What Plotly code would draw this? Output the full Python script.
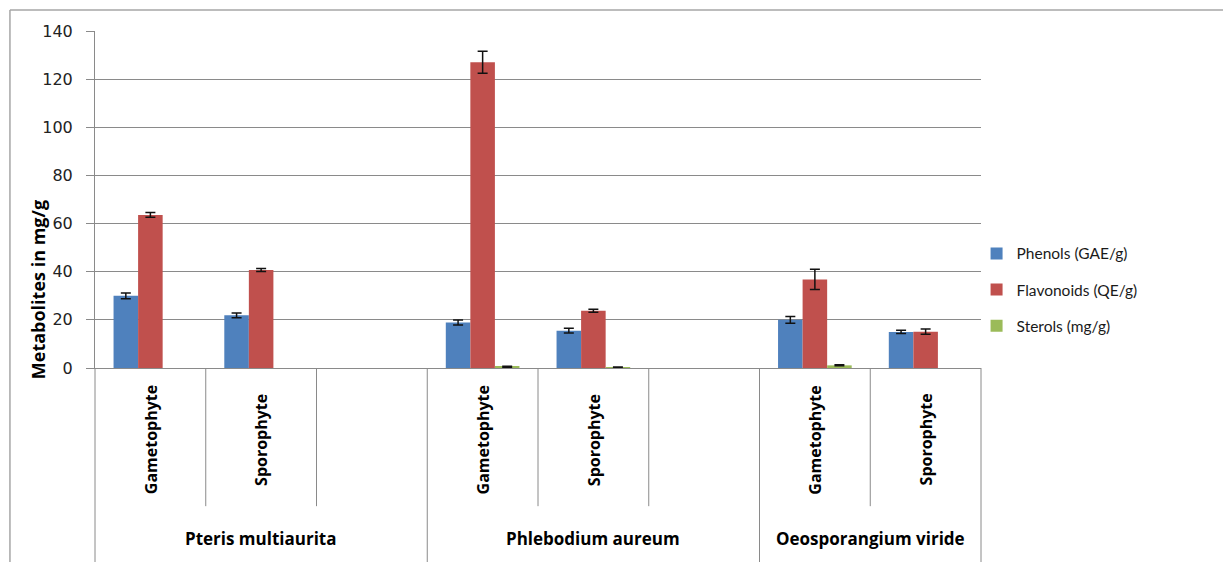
import plotly.graph_objects as go

# ---- data ----
groups = ["Pteris multiaurita", "Phlebodium aureum", "Oeosporangium viride"]
stages = ["Gametophyte", "Sporophyte", "", "Gametophyte", "Sporophyte", "", "Gametophyte", "Sporophyte"]
slot_group = [0, 0, 0, 1, 1, 1, 2, 2]

phenols = [30.0, 21.9, None, 18.9, 15.5, None, 20.0, 15.0]
phenols_err = [1.2, 1.0, 0, 1.0, 1.0, 0, 1.4, 0.7]
flavonoids = [63.6, 40.7, None, 127.0, 23.8, None, 36.8, 15.1]
flavonoids_err = [1.0, 0.6, 0, 4.6, 0.6, 0, 4.2, 1.1]
sterols = [None, None, None, 0.5, 0.3, None, 1.1, None]
sterols_err = [0, 0, 0, 0.2, 0.1, 0, 0.2, 0]

series_names = ["Phenols (GAE/g)", "Flavonoids (QE/g)", "Sterols (mg/g)"]
series_colors = ["#4F81BD", "#C0504D", "#9BBB59"]
y_ticks = [0, 20, 40, 60, 80, 100, 120, 140]

x = list(range(len(stages)))
GRID = "#8a8a8a"
LABEL_FONT = "Open Sans"

fig = go.Figure()
for name, vals, errs, col in zip(series_names, [phenols, flavonoids, sterols],
                                 [phenols_err, flavonoids_err, sterols_err], series_colors):
    fig.add_trace(go.Bar(
        x=x, y=vals, name=name, legendgroup=name,
        marker=dict(color=col, line=dict(width=0)),
        error_y=dict(type="data", array=errs, visible=True, color="#111111",
                     thickness=1.5, width=5),
    ))

annotations = []
# sub-category labels
for i, s in enumerate(stages):
    if s:
        annotations.append(dict(x=i, xref="x", y=-0.213, yref="paper", text=s,
                                textangle=-90, showarrow=False, xanchor="center",
                                yanchor="middle",
                                font=dict(family=LABEL_FONT, size=16, color="#000000", weight="bold")))
# group labels
for g, gname in enumerate(groups):
    idx = [i for i, sg in enumerate(slot_group) if sg == g]
    cx = (idx[0] - 0.5 + idx[-1] + 0.5) / 2
    annotations.append(dict(x=cx, xref="x", y=-0.505, yref="paper", text=gname,
                            showarrow=False, xanchor="center", yanchor="middle",
                            font=dict(family=LABEL_FONT, size=17, color="#000000", weight="bold")))
# y-axis title
annotations.append(dict(x=-0.065, xref="paper", y=0.232, yref="paper", text="Metabolites in mg/g",
                        textangle=-90, showarrow=False, xanchor="center", yanchor="middle",
                        font=dict(family=LABEL_FONT, size=18, color="#000000", weight="bold")))

shapes = []
# separators between sub-categories (short) and between groups (long)
for k in range(len(stages) + 1):
    bx = k - 0.5
    is_edge = k == 0 or k == len(stages)
    is_group = is_edge or slot_group[k - 1] != slot_group[k]
    y_end = -0.62 if is_group else -0.41
    if is_edge:
        shapes.append(dict(type="line", xref="x domain", yref="paper",
                           x0=0 if k == 0 else 1, x1=0 if k == 0 else 1,
                           y0=0, y1=y_end, line=dict(color=GRID, width=1)))
    else:
        shapes.append(dict(type="line", xref="x", yref="paper", x0=bx, x1=bx,
                           y0=0, y1=y_end, line=dict(color=GRID, width=1)))
# outer chart border (top and left visible)
shapes.append(dict(type="line", xref="paper", yref="paper", x0=-0.096, x1=1.5,
                   y0=1.062, y1=1.062, line=dict(color="#a6a6a6", width=1.5)))
shapes.append(dict(type="line", xref="paper", yref="paper", x0=-0.096, x1=-0.096,
                   y0=1.062, y1=-0.7, line=dict(color="#a6a6a6", width=1.5)))

fig.update_layout(
    width=1223, height=562,
    margin=dict(l=95, r=242, t=31, b=194),
    paper_bgcolor="white", plot_bgcolor="white",
    barmode="group", bargap=0.335, bargroupgap=0,
    showlegend=True,
    legend=dict(x=0.995, xanchor="left", y=0.232, yanchor="middle",
                traceorder="grouped", tracegroupgap=13,
                font=dict(family="Lato", size=15.5, color="#1a1a1a"),
                bgcolor="rgba(0,0,0,0)"),
    xaxis=dict(range=[-0.5, len(stages) - 0.5], showticklabels=False, ticks="",
               showgrid=False, zeroline=False, showline=True, linecolor=GRID, linewidth=1),
    yaxis=dict(range=[0, 140], tickvals=y_ticks, showgrid=True, gridcolor=GRID, gridwidth=1,
               zeroline=False, showline=True, linecolor=GRID, linewidth=1,
               ticks="outside", ticklen=8, tickcolor=GRID, ticklabelstandoff=10,
               tickfont=dict(family="DejaVu Sans", size=16, color="#222222")),
    annotations=annotations,
    shapes=shapes,
    font=dict(family="Lato"),
)

fig.write_html("out.html")
